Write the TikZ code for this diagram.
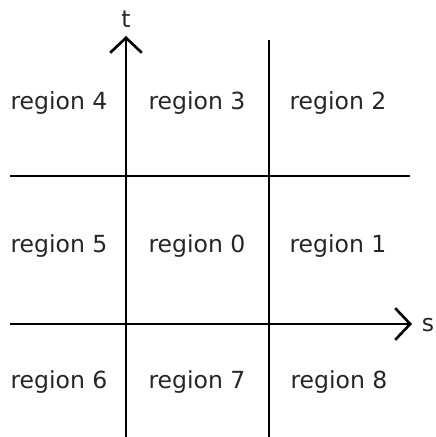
\documentclass[tikz,border=0pt]{standalone}
\usepackage{fontspec}
\setmainfont{DejaVu Sans}
\usetikzlibrary{arrows.meta}
\tikzset{
    axis-line/.style = {line width=1.5pt, -{Straight Barb[length=8.5pt, width=18pt, line width=1.5pt]}},
    grid-line/.style = {line width=1pt},
    region-label/.style = {font=\fontsize{13.4}{16}\selectfont, inner sep=0pt, text=black!85},
    axis-label/.style = {font=\fontsize{13.4}{16}\selectfont, inner sep=0pt, text=black!85},
}

\begin{document}
\begin{tikzpicture}[x=0.02cm, y=-0.02cm]
\useasboundingbox (0,0) rectangle (436,437);
% end points of the axes and the two grid lines
\coordinate (t-start) at (126,437);
\coordinate (t-end) at (126,36);
\coordinate (s-start) at (10,324);
\coordinate (s-end) at (412,324);
\coordinate (v-top) at (269,40);
\coordinate (v-bottom) at (269,437);
\coordinate (h-left) at (10,176);
\coordinate (h-right) at (410,176);

\draw[grid-line] (v-top) -- (v-bottom);
\draw[grid-line] (h-left) -- (h-right);
\draw[axis-line] (s-start) -- (s-end);
\draw[axis-line] (t-start) -- (t-end);

\node[axis-label] (t-label) at (126,19) {t};
\node[axis-label] (s-label) at (428,325) {s};

\node[region-label] (region4) at (59,103) {region 4};
\node[region-label] (region3) at (197,103) {region 3};
\node[region-label] (region2) at (338,103) {region 2};
\node[region-label] (region5) at (59,246) {region 5};
\node[region-label] (region0) at (197,246) {region 0};
\node[region-label] (region1) at (338,246) {region 1};
\node[region-label] (region6) at (59,382) {region 6};
\node[region-label] (region7) at (197,382) {region 7};
\node[region-label] (region8) at (339,382) {region 8};
\end{tikzpicture}
\end{document}
